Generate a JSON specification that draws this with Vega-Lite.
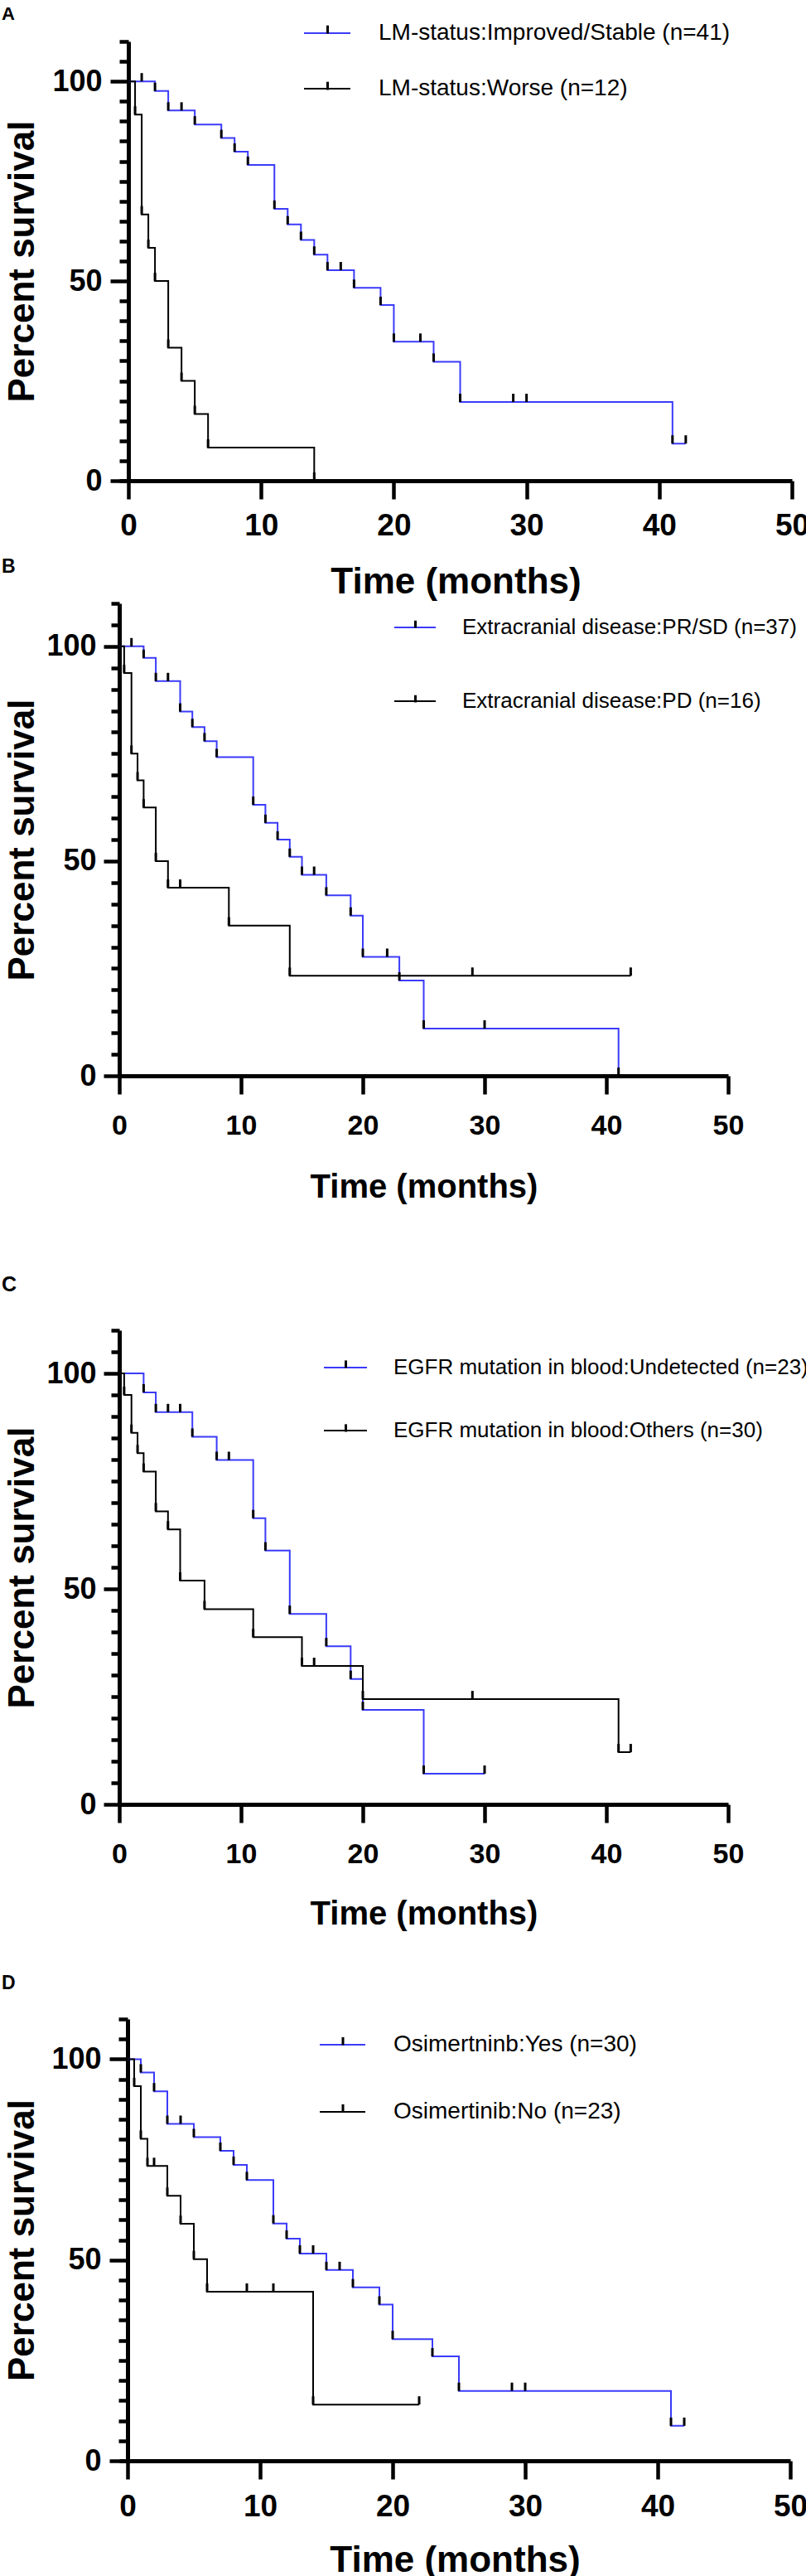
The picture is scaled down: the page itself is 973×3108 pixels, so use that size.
{
  "$schema": "https://vega.github.io/schema/vega-lite/v6.json",
  "padding": {"left": 2, "top": 6, "right": 0, "bottom": 0},
  "autosize": {"type": "pad"},
  "spacing": 0,
  "bounds": "flush",
  "resolve": {
    "scale": {"x": "independent", "y": "independent", "color": "independent", "opacity": "independent"},
    "axis": {"x": "independent", "y": "independent"},
    "legend": {"color": "independent", "opacity": "independent"}
  },
  "config": {
    "font": "Liberation Sans",
    "view": {"stroke": null},
    "axis": {
      "grid": false,
      "domainColor": "black",
      "domainWidth": 5,
      "tickColor": "black",
      "tickWidth": 4.5,
      "labelColor": "black",
      "labelFontWeight": "bold",
      "titleColor": "black",
      "titleFontWeight": "bold",
      "labelFlush": false,
      "labelOverlap": false
    },
    "legend": {"titleColor": "black", "labelColor": "black", "padding": 0, "offset": 0},
    "title": {"color": "black", "fontSize": 22, "fontWeight": "bold", "anchor": "start", "frame": "group", "baseline": "alphabetic", "dx": -142, "offset": 19}
  },
  "datasets": {
    "A": [
      {"g": "LM-status:Improved/Stable (n=41)", "t": 0, "s": 100},
      {"g": "LM-status:Improved/Stable (n=41)", "t": 1, "s": 100},
      {"g": "LM-status:Improved/Stable (n=41)", "t": 2, "s": 97.6},
      {"g": "LM-status:Improved/Stable (n=41)", "t": 3, "s": 92.7},
      {"g": "LM-status:Improved/Stable (n=41)", "t": 4, "s": 92.7},
      {"g": "LM-status:Improved/Stable (n=41)", "t": 5, "s": 89.2},
      {"g": "LM-status:Improved/Stable (n=41)", "t": 7, "s": 85.8},
      {"g": "LM-status:Improved/Stable (n=41)", "t": 8, "s": 82.4},
      {"g": "LM-status:Improved/Stable (n=41)", "t": 9, "s": 79.1},
      {"g": "LM-status:Improved/Stable (n=41)", "t": 11, "s": 68.1},
      {"g": "LM-status:Improved/Stable (n=41)", "t": 12, "s": 64.2},
      {"g": "LM-status:Improved/Stable (n=41)", "t": 13, "s": 60.3},
      {"g": "LM-status:Improved/Stable (n=41)", "t": 14, "s": 56.6},
      {"g": "LM-status:Improved/Stable (n=41)", "t": 15, "s": 52.7},
      {"g": "LM-status:Improved/Stable (n=41)", "t": 16, "s": 52.7},
      {"g": "LM-status:Improved/Stable (n=41)", "t": 17, "s": 48.3},
      {"g": "LM-status:Improved/Stable (n=41)", "t": 19, "s": 44.0},
      {"g": "LM-status:Improved/Stable (n=41)", "t": 20, "s": 34.8},
      {"g": "LM-status:Improved/Stable (n=41)", "t": 22, "s": 34.8},
      {"g": "LM-status:Improved/Stable (n=41)", "t": 23, "s": 29.8},
      {"g": "LM-status:Improved/Stable (n=41)", "t": 25, "s": 19.7},
      {"g": "LM-status:Improved/Stable (n=41)", "t": 29, "s": 19.7},
      {"g": "LM-status:Improved/Stable (n=41)", "t": 30, "s": 19.7},
      {"g": "LM-status:Improved/Stable (n=41)", "t": 41, "s": 9.3},
      {"g": "LM-status:Improved/Stable (n=41)", "t": 42, "s": 9.3},
      {"g": "LM-status:Worse (n=12)", "t": 0, "s": 100},
      {"g": "LM-status:Worse (n=12)", "t": 0.5, "s": 91.7},
      {"g": "LM-status:Worse (n=12)", "t": 1, "s": 66.7},
      {"g": "LM-status:Worse (n=12)", "t": 1.5, "s": 58.3},
      {"g": "LM-status:Worse (n=12)", "t": 2, "s": 50},
      {"g": "LM-status:Worse (n=12)", "t": 3, "s": 33.3},
      {"g": "LM-status:Worse (n=12)", "t": 4, "s": 25},
      {"g": "LM-status:Worse (n=12)", "t": 5, "s": 16.7},
      {"g": "LM-status:Worse (n=12)", "t": 6, "s": 8.3},
      {"g": "LM-status:Worse (n=12)", "t": 14, "s": 0}
    ],
    "B": [
      {"g": "Extracranial disease:PR/SD (n=37)", "t": 0, "s": 100},
      {"g": "Extracranial disease:PR/SD (n=37)", "t": 1, "s": 100},
      {"g": "Extracranial disease:PR/SD (n=37)", "t": 2, "s": 97.3},
      {"g": "Extracranial disease:PR/SD (n=37)", "t": 3, "s": 91.9},
      {"g": "Extracranial disease:PR/SD (n=37)", "t": 4, "s": 91.9},
      {"g": "Extracranial disease:PR/SD (n=37)", "t": 5, "s": 84.8},
      {"g": "Extracranial disease:PR/SD (n=37)", "t": 6, "s": 81.2},
      {"g": "Extracranial disease:PR/SD (n=37)", "t": 7, "s": 77.9},
      {"g": "Extracranial disease:PR/SD (n=37)", "t": 8, "s": 74.2},
      {"g": "Extracranial disease:PR/SD (n=37)", "t": 11, "s": 63.1},
      {"g": "Extracranial disease:PR/SD (n=37)", "t": 12, "s": 58.9},
      {"g": "Extracranial disease:PR/SD (n=37)", "t": 13, "s": 55.0},
      {"g": "Extracranial disease:PR/SD (n=37)", "t": 14, "s": 51.0},
      {"g": "Extracranial disease:PR/SD (n=37)", "t": 15, "s": 46.8},
      {"g": "Extracranial disease:PR/SD (n=37)", "t": 16, "s": 46.8},
      {"g": "Extracranial disease:PR/SD (n=37)", "t": 17, "s": 42.0},
      {"g": "Extracranial disease:PR/SD (n=37)", "t": 19, "s": 37.3},
      {"g": "Extracranial disease:PR/SD (n=37)", "t": 20, "s": 27.7},
      {"g": "Extracranial disease:PR/SD (n=37)", "t": 22, "s": 27.7},
      {"g": "Extracranial disease:PR/SD (n=37)", "t": 23, "s": 22.2},
      {"g": "Extracranial disease:PR/SD (n=37)", "t": 25, "s": 11.0},
      {"g": "Extracranial disease:PR/SD (n=37)", "t": 30, "s": 11.0},
      {"g": "Extracranial disease:PR/SD (n=37)", "t": 41, "s": 0},
      {"g": "Extracranial disease:PD (n=16)", "t": 0, "s": 100},
      {"g": "Extracranial disease:PD (n=16)", "t": 0.4, "s": 93.8},
      {"g": "Extracranial disease:PD (n=16)", "t": 1, "s": 75},
      {"g": "Extracranial disease:PD (n=16)", "t": 1.5, "s": 68.8},
      {"g": "Extracranial disease:PD (n=16)", "t": 2, "s": 62.5},
      {"g": "Extracranial disease:PD (n=16)", "t": 3, "s": 50},
      {"g": "Extracranial disease:PD (n=16)", "t": 4, "s": 43.8},
      {"g": "Extracranial disease:PD (n=16)", "t": 5, "s": 43.8},
      {"g": "Extracranial disease:PD (n=16)", "t": 9, "s": 35},
      {"g": "Extracranial disease:PD (n=16)", "t": 14, "s": 23.3},
      {"g": "Extracranial disease:PD (n=16)", "t": 29, "s": 23.3},
      {"g": "Extracranial disease:PD (n=16)", "t": 42, "s": 23.3}
    ],
    "C": [
      {"g": "EGFR mutation in blood:Undetected (n=23)", "t": 0, "s": 100},
      {"g": "EGFR mutation in blood:Undetected (n=23)", "t": 2, "s": 95.6},
      {"g": "EGFR mutation in blood:Undetected (n=23)", "t": 3, "s": 91.0},
      {"g": "EGFR mutation in blood:Undetected (n=23)", "t": 4, "s": 91.0},
      {"g": "EGFR mutation in blood:Undetected (n=23)", "t": 5, "s": 91.0},
      {"g": "EGFR mutation in blood:Undetected (n=23)", "t": 6, "s": 85.3},
      {"g": "EGFR mutation in blood:Undetected (n=23)", "t": 8, "s": 79.9},
      {"g": "EGFR mutation in blood:Undetected (n=23)", "t": 9, "s": 79.9},
      {"g": "EGFR mutation in blood:Undetected (n=23)", "t": 11, "s": 66.4},
      {"g": "EGFR mutation in blood:Undetected (n=23)", "t": 12, "s": 58.9},
      {"g": "EGFR mutation in blood:Undetected (n=23)", "t": 14, "s": 44.2},
      {"g": "EGFR mutation in blood:Undetected (n=23)", "t": 17, "s": 36.7},
      {"g": "EGFR mutation in blood:Undetected (n=23)", "t": 19, "s": 29.1},
      {"g": "EGFR mutation in blood:Undetected (n=23)", "t": 20, "s": 21.9},
      {"g": "EGFR mutation in blood:Undetected (n=23)", "t": 25, "s": 7.1},
      {"g": "EGFR mutation in blood:Undetected (n=23)", "t": 30, "s": 7.1},
      {"g": "EGFR mutation in blood:Others (n=30)", "t": 0, "s": 100},
      {"g": "EGFR mutation in blood:Others (n=30)", "t": 0.4, "s": 95},
      {"g": "EGFR mutation in blood:Others (n=30)", "t": 1, "s": 86.2},
      {"g": "EGFR mutation in blood:Others (n=30)", "t": 1.5, "s": 81.5},
      {"g": "EGFR mutation in blood:Others (n=30)", "t": 2, "s": 77.2},
      {"g": "EGFR mutation in blood:Others (n=30)", "t": 3, "s": 68.0},
      {"g": "EGFR mutation in blood:Others (n=30)", "t": 4, "s": 63.8},
      {"g": "EGFR mutation in blood:Others (n=30)", "t": 5, "s": 51.9},
      {"g": "EGFR mutation in blood:Others (n=30)", "t": 7, "s": 45.3},
      {"g": "EGFR mutation in blood:Others (n=30)", "t": 11, "s": 38.8},
      {"g": "EGFR mutation in blood:Others (n=30)", "t": 15, "s": 32.1},
      {"g": "EGFR mutation in blood:Others (n=30)", "t": 16, "s": 32.1},
      {"g": "EGFR mutation in blood:Others (n=30)", "t": 20, "s": 24.4},
      {"g": "EGFR mutation in blood:Others (n=30)", "t": 29, "s": 24.4},
      {"g": "EGFR mutation in blood:Others (n=30)", "t": 41, "s": 12.1},
      {"g": "EGFR mutation in blood:Others (n=30)", "t": 42, "s": 12.1}
    ],
    "D": [
      {"g": "Osimertninb:Yes (n=30)", "t": 0, "s": 100},
      {"g": "Osimertninb:Yes (n=30)", "t": 1, "s": 96.7},
      {"g": "Osimertninb:Yes (n=30)", "t": 2, "s": 92.0},
      {"g": "Osimertninb:Yes (n=30)", "t": 3, "s": 83.9},
      {"g": "Osimertninb:Yes (n=30)", "t": 4, "s": 83.9},
      {"g": "Osimertninb:Yes (n=30)", "t": 5, "s": 80.6},
      {"g": "Osimertninb:Yes (n=30)", "t": 7, "s": 77.2},
      {"g": "Osimertninb:Yes (n=30)", "t": 8, "s": 73.7},
      {"g": "Osimertninb:Yes (n=30)", "t": 9, "s": 69.9},
      {"g": "Osimertninb:Yes (n=30)", "t": 11, "s": 59.1},
      {"g": "Osimertninb:Yes (n=30)", "t": 12, "s": 55.3},
      {"g": "Osimertninb:Yes (n=30)", "t": 13, "s": 51.6},
      {"g": "Osimertninb:Yes (n=30)", "t": 14, "s": 51.6},
      {"g": "Osimertninb:Yes (n=30)", "t": 15, "s": 47.5},
      {"g": "Osimertninb:Yes (n=30)", "t": 16, "s": 47.5},
      {"g": "Osimertninb:Yes (n=30)", "t": 17, "s": 43.2},
      {"g": "Osimertninb:Yes (n=30)", "t": 19, "s": 38.9},
      {"g": "Osimertninb:Yes (n=30)", "t": 20, "s": 30.3},
      {"g": "Osimertninb:Yes (n=30)", "t": 23, "s": 26.0},
      {"g": "Osimertninb:Yes (n=30)", "t": 25, "s": 17.4},
      {"g": "Osimertninb:Yes (n=30)", "t": 29, "s": 17.4},
      {"g": "Osimertninb:Yes (n=30)", "t": 30, "s": 17.4},
      {"g": "Osimertninb:Yes (n=30)", "t": 41, "s": 8.7},
      {"g": "Osimertninb:Yes (n=30)", "t": 42, "s": 8.7},
      {"g": "Osimertinib:No (n=23)", "t": 0, "s": 100},
      {"g": "Osimertinib:No (n=23)", "t": 0.5, "s": 93.3},
      {"g": "Osimertinib:No (n=23)", "t": 1, "s": 80.2},
      {"g": "Osimertinib:No (n=23)", "t": 1.5, "s": 73.4},
      {"g": "Osimertinib:No (n=23)", "t": 2, "s": 73.4},
      {"g": "Osimertinib:No (n=23)", "t": 3, "s": 66.0},
      {"g": "Osimertinib:No (n=23)", "t": 4, "s": 59.0},
      {"g": "Osimertinib:No (n=23)", "t": 5, "s": 50.2},
      {"g": "Osimertinib:No (n=23)", "t": 6, "s": 42.1},
      {"g": "Osimertinib:No (n=23)", "t": 9, "s": 42.1},
      {"g": "Osimertinib:No (n=23)", "t": 11, "s": 42.1},
      {"g": "Osimertinib:No (n=23)", "t": 14, "s": 14.0},
      {"g": "Osimertinib:No (n=23)", "t": 22, "s": 14.0}
    ]
  },
  "vconcat": [
    {
      "title": {"text": "A", "offset": -18},
      "width": 812,
      "height": 530,
      "data": {"name": "A"},
      "encoding": {
        "x": {"field": "t", "type": "quantitative", "scale": {"domain": [-0.69, 50], "nice": false, "zero": false},
          "axis": {"values": [0, 10, 20, 30, 40, 50], "title": "Time (months)", "titleFontSize": 44, "titleY": 122, "titleBaseline": "middle", "labelFontSize": 37, "labelBaseline": "middle", "labelPadding": 32, "tickSize": 22}},
        "y": {"field": "s", "type": "quantitative", "scale": {"domain": [0, 110], "nice": false},
          "axis": {"values": [0, 5, 10, 15, 20, 25, 30, 35, 40, 45, 50, 55, 60, 65, 70, 75, 80, 85, 90, 95, 100, 105, 110], "labelExpr": "datum.value % 50 === 0 ? datum.label : ''", "tickSize": {"condition": {"test": "datum.value % 50 === 0", "value": 22}, "value": 11}, "labelPadding": 10, "labelFontSize": 36, "title": "Percent survival", "titleFontSize": 44, "titleX": -106, "offset": -11}}
      },
      "layer": [
        {
          "mark": {"type": "line", "interpolate": "step-after", "strokeWidth": 2},
          "encoding": {
            "color": {"field": "g", "type": "nominal",
              "scale": {"domain": ["LM-status:Improved/Stable (n=41)", "LM-status:Worse (n=12)"], "range": ["#3b3bfa", "#000000"]},
              "legend": {"orient": "none", "legendX": 222, "legendY": -39, "title": null, "symbolType": "M-1,0H1", "symbolSize": 3136, "symbolStrokeWidth": 2, "labelFontSize": 28, "labelLimit": 800, "labelOffset": 33, "rowPadding": 24}}
          }
        },
        {
          "transform": [{"filter": "datum.t > 0"}],
          "mark": {"type": "rule", "color": "black", "strokeWidth": 3, "y2Offset": -10},
          "encoding": {
            "y2": {"field": "s"},
            "opacity": {"field": "g", "type": "nominal",
              "scale": {"domain": ["LM-status:Worse (n=12)", "LM-status:Improved/Stable (n=41)"], "range": [1, 1]},
              "legend": {"orient": "none", "legendX": 222, "legendY": -39, "title": null, "values": ["LM-status:Improved/Stable (n=41)", "LM-status:Worse (n=12)"], "symbolType": "M0,0V-0.35", "symbolSize": 3136, "symbolStrokeWidth": 3, "symbolStrokeColor": "black", "labelFontSize": 28, "labelOpacity": 0, "labelLimit": 800, "labelOffset": 33, "rowPadding": 24}}
          }
        }
      ]
    },
    {"width": 10, "height": 148, "data": {"values": []}, "mark": "point"},
    {
      "title": {"text": "B", "offset": 13.75, "fontSize": 23},
      "width": 735,
      "height": 570,
      "data": {"name": "B"},
      "encoding": {
        "x": {"field": "t", "type": "quantitative", "scale": {"domain": [0, 50], "nice": false, "zero": false},
          "axis": {"values": [0, 10, 20, 30, 40, 50], "title": "Time (months)", "titleFontSize": 40, "titleY": 134, "titleBaseline": "middle", "labelFontSize": 34, "labelBaseline": "middle", "labelPadding": 38, "tickSize": 22}},
        "y": {"field": "s", "type": "quantitative", "scale": {"domain": [0, 110], "nice": false},
          "axis": {"values": [0, 5, 10, 15, 20, 25, 30, 35, 40, 45, 50, 55, 60, 65, 70, 75, 80, 85, 90, 95, 100, 105, 110], "labelExpr": "datum.value % 50 === 0 ? datum.label : ''", "tickSize": {"condition": {"test": "datum.value % 50 === 0", "value": 19}, "value": 10}, "labelPadding": 9, "labelFontSize": 36, "title": "Percent survival", "titleFontSize": 44, "titleX": -95}}
      },
      "layer": [
        {
          "mark": {"type": "line", "interpolate": "step-after", "strokeWidth": 2},
          "encoding": {
            "color": {"field": "g", "type": "nominal",
              "scale": {"domain": ["Extracranial disease:PR/SD (n=37)", "Extracranial disease:PD (n=16)"], "range": ["#3b3bfa", "#000000"]},
              "legend": {"orient": "none", "legendX": 331, "legendY": 3, "title": null, "symbolType": "M-1,0H1", "symbolSize": 2500, "symbolStrokeWidth": 2, "labelFontSize": 26, "labelLimit": 800, "labelOffset": 31, "rowPadding": 50}}
          }
        },
        {
          "transform": [{"filter": "datum.t > 0"}],
          "mark": {"type": "rule", "color": "black", "strokeWidth": 3, "y2Offset": -10},
          "encoding": {
            "y2": {"field": "s"},
            "opacity": {"field": "g", "type": "nominal",
              "scale": {"domain": ["Extracranial disease:PD (n=16)", "Extracranial disease:PR/SD (n=37)"], "range": [1, 1]},
              "legend": {"orient": "none", "legendX": 331, "legendY": 3, "title": null, "values": ["Extracranial disease:PR/SD (n=37)", "Extracranial disease:PD (n=16)"], "symbolType": "M0,0V-0.35", "symbolSize": 2500, "symbolStrokeWidth": 3, "symbolStrokeColor": "black", "labelFontSize": 26, "labelOpacity": 0, "labelLimit": 800, "labelOffset": 31, "rowPadding": 50}}
          }
        }
      ]
    },
    {"width": 10, "height": 307, "data": {"values": []}, "mark": "point"},
    {
      "title": {"text": "C", "offset": 23.75, "fontSize": 25},
      "width": 735,
      "height": 572,
      "data": {"name": "C"},
      "encoding": {
        "x": {"field": "t", "type": "quantitative", "scale": {"domain": [0, 50], "nice": false, "zero": false},
          "axis": {"values": [0, 10, 20, 30, 40, 50], "title": "Time (months)", "titleFontSize": 40, "titleY": 132, "titleBaseline": "middle", "labelFontSize": 34, "labelBaseline": "middle", "labelPadding": 38, "tickSize": 22}},
        "y": {"field": "s", "type": "quantitative", "scale": {"domain": [0, 110], "nice": false},
          "axis": {"values": [0, 5, 10, 15, 20, 25, 30, 35, 40, 45, 50, 55, 60, 65, 70, 75, 80, 85, 90, 95, 100, 105, 110], "labelExpr": "datum.value % 50 === 0 ? datum.label : ''", "tickSize": {"condition": {"test": "datum.value % 50 === 0", "value": 19}, "value": 10}, "labelPadding": 9, "labelFontSize": 36, "title": "Percent survival", "titleFontSize": 44, "titleX": -95}}
      },
      "layer": [
        {
          "mark": {"type": "line", "interpolate": "step-after", "strokeWidth": 2},
          "encoding": {
            "color": {"field": "g", "type": "nominal",
              "scale": {"domain": ["EGFR mutation in blood:Undetected (n=23)", "EGFR mutation in blood:Others (n=30)"], "range": ["#3b3bfa", "#000000"]},
              "legend": {"orient": "none", "legendX": 246, "legendY": 18, "title": null, "symbolType": "M-1,0H1", "symbolSize": 2704, "symbolStrokeWidth": 2, "labelFontSize": 26, "labelLimit": 800, "labelOffset": 31, "rowPadding": 36}}
          }
        },
        {
          "transform": [{"filter": "datum.t > 0"}],
          "mark": {"type": "rule", "color": "black", "strokeWidth": 3, "y2Offset": -10},
          "encoding": {
            "y2": {"field": "s"},
            "opacity": {"field": "g", "type": "nominal",
              "scale": {"domain": ["EGFR mutation in blood:Others (n=30)", "EGFR mutation in blood:Undetected (n=23)"], "range": [1, 1]},
              "legend": {"orient": "none", "legendX": 246, "legendY": 18, "title": null, "values": ["EGFR mutation in blood:Undetected (n=23)", "EGFR mutation in blood:Others (n=30)"], "symbolType": "M0,0V-0.35", "symbolSize": 2704, "symbolStrokeWidth": 3, "symbolStrokeColor": "black", "labelFontSize": 26, "labelOpacity": 0, "labelLimit": 800, "labelOffset": 31, "rowPadding": 36}}
          }
        }
      ]
    },
    {"width": 10, "height": 259, "data": {"values": []}, "mark": "point"},
    {
      "title": {"text": "D", "offset": 12.75, "fontSize": 23},
      "width": 810,
      "height": 533,
      "data": {"name": "D"},
      "encoding": {
        "x": {"field": "t", "type": "quantitative", "scale": {"domain": [-0.625, 50], "nice": false, "zero": false},
          "axis": {"values": [0, 10, 20, 30, 40, 50], "title": "Time (months)", "titleFontSize": 44, "titleY": 120, "titleBaseline": "middle", "labelFontSize": 37, "labelBaseline": "middle", "labelPadding": 33, "tickSize": 22}},
        "y": {"field": "s", "type": "quantitative", "scale": {"domain": [0, 110], "nice": false},
          "axis": {"values": [0, 5, 10, 15, 20, 25, 30, 35, 40, 45, 50, 55, 60, 65, 70, 75, 80, 85, 90, 95, 100, 105, 110], "labelExpr": "datum.value % 50 === 0 ? datum.label : ''", "tickSize": {"condition": {"test": "datum.value % 50 === 0", "value": 22}, "value": 11}, "labelPadding": 10, "labelFontSize": 36, "title": "Percent survival", "titleFontSize": 44, "titleX": -105, "offset": -10}}
      },
      "layer": [
        {
          "mark": {"type": "line", "interpolate": "step-after", "strokeWidth": 2},
          "encoding": {
            "color": {"field": "g", "type": "nominal",
              "scale": {"domain": ["Osimertninb:Yes (n=30)", "Osimertinib:No (n=23)"], "range": ["#3b3bfa", "#000000"]},
              "legend": {"orient": "none", "legendX": 241, "legendY": 2.5, "title": null, "symbolType": "M-1,0H1", "symbolSize": 3025, "symbolStrokeWidth": 2, "labelFontSize": 28, "labelLimit": 800, "labelOffset": 33, "rowPadding": 38}}
          }
        },
        {
          "transform": [{"filter": "datum.t > 0"}],
          "mark": {"type": "rule", "color": "black", "strokeWidth": 3, "y2Offset": -10},
          "encoding": {
            "y2": {"field": "s"},
            "opacity": {"field": "g", "type": "nominal",
              "scale": {"domain": ["Osimertinib:No (n=23)", "Osimertninb:Yes (n=30)"], "range": [1, 1]},
              "legend": {"orient": "none", "legendX": 241, "legendY": 2.5, "title": null, "values": ["Osimertninb:Yes (n=30)", "Osimertinib:No (n=23)"], "symbolType": "M0,0V-0.35", "symbolSize": 3025, "symbolStrokeWidth": 3, "symbolStrokeColor": "black", "labelFontSize": 28, "labelOpacity": 0, "labelLimit": 800, "labelOffset": 33, "rowPadding": 38}}
          }
        }
      ]
    }
  ]
}
